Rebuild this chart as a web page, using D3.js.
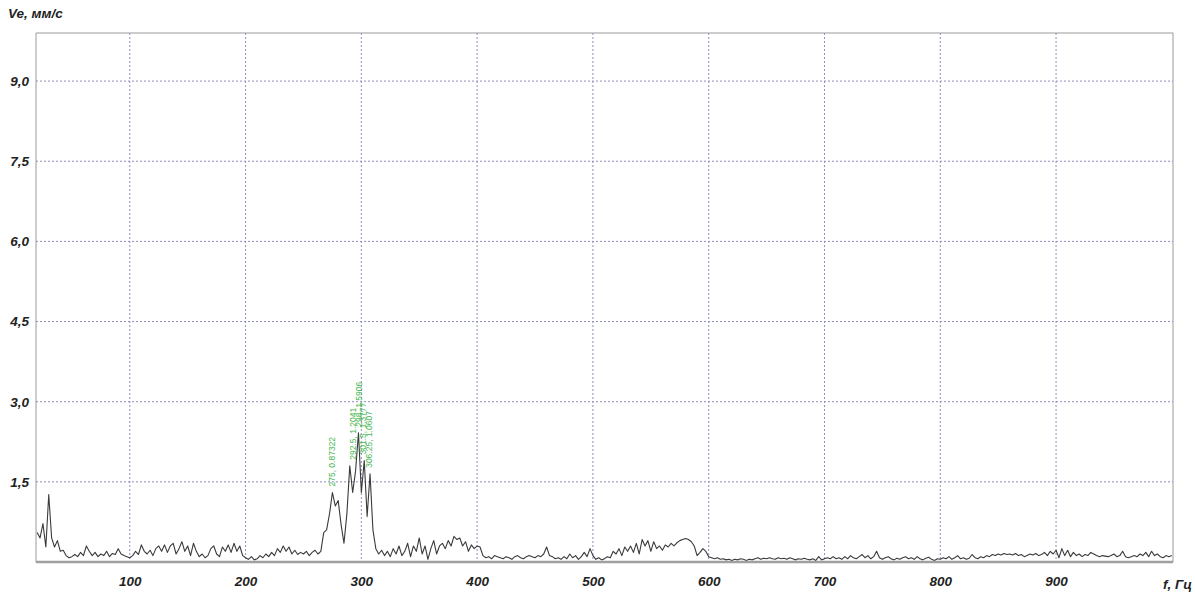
<!DOCTYPE html>
<html>
<head>
<meta charset="utf-8">
<script src="https://cdn.jsdelivr.net/npm/d3@7"></script>
<style>
  body { margin: 0; background: #fff; }
  svg { display: block; }
  .lbl { font-family: "Liberation Sans", Arial, sans-serif; font-weight: bold; font-style: italic; font-size: 13.5px; fill: #222; }
</style>
</head>
<body>
<svg class="chart"></svg>
<script>
// spectrum, 20 .. 1000 Hz with a 2.5 Hz step
var freqStart = 20, freqStep = 2.5;
var velocity = [
    // 20 - 97.5
    0.55, 0.45, 0.72, 0.28, 1.26, 0.45, 0.28, 0.4, 0.2, 0.22, 0.12, 0.08, 0.1, 0.14, 0.1, 0.18,
    0.12, 0.3, 0.2, 0.12, 0.18, 0.1, 0.15, 0.12, 0.2, 0.1, 0.16, 0.14, 0.25, 0.15, 0.12, 0.1,
    // 100 - 197.5
    0.08, 0.12, 0.2, 0.14, 0.32, 0.2, 0.15, 0.22, 0.12, 0.25, 0.3, 0.2, 0.32, 0.18, 0.3, 0.35, 0.15, 0.25, 0.38, 0.2,
    0.3, 0.12, 0.35, 0.2, 0.1, 0.15, 0.08, 0.12, 0.25, 0.3, 0.15, 0.1, 0.28, 0.2, 0.32, 0.18, 0.35, 0.2, 0.3, 0.12,
    // 200 - 247.5
    0.08, 0.05, 0.1, 0.04, 0.06, 0.12, 0.08, 0.15, 0.1, 0.18, 0.12, 0.25, 0.18, 0.3, 0.2, 0.28, 0.15, 0.22, 0.14, 0.18,
    // 250 - 347.5
    0.15, 0.2, 0.12, 0.18, 0.22, 0.15, 0.2, 0.55, 0.6, 0.9, 1.3, 1.05, 1.15, 0.7, 0.35, 0.9, 1.8, 1.3, 1.7, 2.42,
    1.3, 1.9, 0.85, 1.65, 0.6, 0.25, 0.15, 0.22, 0.12, 0.2, 0.1, 0.25, 0.15, 0.3, 0.12, 0.2, 0.35, 0.1, 0.3, 0.2,
    // 350 - 397.5
    0.45, 0.15, 0.3, 0.05, 0.25, 0.4, 0.15, 0.3, 0.35, 0.25, 0.4, 0.3, 0.48, 0.42, 0.45, 0.3, 0.38, 0.2, 0.32, 0.25,
    // 400 - 447.5
    0.3, 0.28, 0.12, 0.08, 0.1, 0.06, 0.12, 0.1, 0.08, 0.06, 0.1, 0.08, 0.05, 0.1, 0.12, 0.08, 0.06, 0.1, 0.12, 0.1,
    // 450 - 497.5
    0.08, 0.12, 0.1, 0.15, 0.28, 0.12, 0.1, 0.06, 0.08, 0.05, 0.1, 0.06, 0.15, 0.08, 0.12, 0.05, 0.1, 0.18, 0.1, 0.25,
    // 500 - 547.5
    0.12, 0.05, 0.08, 0.04, 0.06, 0.1, 0.08, 0.2, 0.15, 0.25, 0.12, 0.28, 0.2, 0.3, 0.18, 0.35, 0.15, 0.42, 0.3, 0.4,
    // 550 - 597.5
    0.2, 0.38, 0.25, 0.3, 0.22, 0.32, 0.28, 0.35, 0.3, 0.36, 0.4, 0.42, 0.44, 0.42, 0.38, 0.3, 0.12, 0.18, 0.25, 0.2,
    // 600 - 647.5
    0.1, 0.08, 0.06, 0.08, 0.05, 0.06, 0.04, 0.05, 0.03, 0.05, 0.04, 0.06, 0.05, 0.03, 0.05, 0.04, 0.06, 0.08, 0.05, 0.07,
    // 650 - 697.5
    0.06, 0.08, 0.06, 0.05, 0.08, 0.06, 0.07, 0.05, 0.08, 0.06, 0.04, 0.06, 0.05, 0.07, 0.05, 0.04, 0.06, 0.03, 0.1, 0.04,
    // 700 - 747.5
    0.06, 0.08, 0.06, 0.1, 0.06, 0.08, 0.05, 0.1, 0.06, 0.12, 0.08, 0.06, 0.1, 0.14, 0.08, 0.12, 0.06, 0.1, 0.2, 0.08,
    // 750 - 797.5
    0.05, 0.08, 0.1, 0.06, 0.04, 0.07, 0.05, 0.08, 0.1, 0.06, 0.08, 0.05, 0.1, 0.06, 0.04, 0.07, 0.09, 0.05, 0.03, 0.06,
    // 800 - 847.5
    0.05, 0.08, 0.06, 0.1, 0.05, 0.08, 0.12, 0.06, 0.08, 0.05, 0.07, 0.14, 0.08, 0.06, 0.1, 0.08, 0.12, 0.1, 0.14, 0.12,
    // 850 - 897.5
    0.15, 0.13, 0.16, 0.14, 0.15, 0.13, 0.16, 0.12, 0.14, 0.1, 0.12, 0.15, 0.13, 0.16, 0.12, 0.14, 0.18, 0.12, 0.2, 0.15,
    // 900 - 947.5
    0.22, 0.08, 0.25, 0.12, 0.22, 0.1, 0.18, 0.12, 0.15, 0.1, 0.14, 0.12, 0.18, 0.15, 0.12, 0.1, 0.12, 0.11, 0.1, 0.12,
    // 950 - 1000
    0.15, 0.1, 0.12, 0.2, 0.1, 0.08, 0.1, 0.12, 0.1, 0.15, 0.12, 0.18, 0.1, 0.2, 0.12, 0.15, 0.1, 0.08, 0.12, 0.1, 0.12
];

var xTicks = [100, 200, 300, 400, 500, 600, 700, 800, 900];
var yTicks = [1.5, 3.0, 4.5, 6.0, 7.5, 9.0];

// marked peaks
var peakFreqs = [275, 292.5, 298, 301.5, 306.25];
var peakTexts = ["275, 0.87322", "292.5, 1.2041", "298, 1.5906", "301.5, 1.3777", "306.25, 1.0607"];

var width = 1195, height = 597;
var plot = {left: 36, top: 33, right: 1173, bottom: 562};

var svg = d3.select(".chart")
    .attr("width", width)
    .attr("height", height);

var x = d3.scaleLinear()
    .domain([19, 1001])
    .range([plot.left, plot.right]);

var y = d3.scaleLinear()
    .domain([0, 9.9])
    .range([plot.bottom, plot.top]);

var points = velocity.map(function(v, i) {
    return {f: freqStart + i * freqStep, v: v};
});

// grid
var grid = svg.append("g");
grid.selectAll(".vg")
    .data(xTicks)
    .enter().append("line")
    .attr("x1", function(d) { return x(d); })
    .attr("x2", function(d) { return x(d); })
    .attr("y1", plot.top)
    .attr("y2", plot.bottom)
    .attr("stroke", "#8d8fc0")
    .attr("stroke-dasharray", "2,2");

grid.selectAll(".hg")
    .data(yTicks)
    .enter().append("line")
    .attr("x1", plot.left)
    .attr("x2", plot.right)
    .attr("y1", function(d) { return y(d); })
    .attr("y2", function(d) { return y(d); })
    .attr("stroke", "#8d8fc0")
    .attr("stroke-dasharray", "2,2");

// frame
svg.append("path")
    .attr("d", "M" + plot.left + "," + plot.bottom + "V" + plot.top + "H" + plot.right + "V" + plot.bottom)
    .attr("fill", "none")
    .attr("stroke", "#9a9a9a");

// spectrum line
var line = d3.line()
    .x(function(d) { return x(d.f); })
    .y(function(d) { return y(d.v); });

svg.append("path")
    .datum(points)
    .attr("d", line)
    .attr("fill", "none")
    .attr("stroke", "#3a3a3a")
    .attr("stroke-width", 1.1)
    .attr("stroke-linejoin", "round");

// bottom axis line
svg.append("line")
    .attr("x1", plot.left)
    .attr("x2", plot.right)
    .attr("y1", plot.bottom)
    .attr("y2", plot.bottom)
    .attr("stroke", "#a0a0a0")
    .attr("stroke-width", 2.5);

// x axis
var xAxis = d3.axisBottom(x)
    .tickValues(xTicks)
    .tickSize(0)
    .tickPadding(14)
    .tickFormat(d3.format("d"));

var gx = svg.append("g")
    .attr("transform", "translate(0," + plot.bottom + ")")
    .call(xAxis);
gx.select(".domain").remove();
gx.selectAll(".tick text").attr("class", "lbl").attr("font-family", null).attr("font-size", null);

// y axis
var yAxis = d3.axisLeft(y)
    .tickValues(yTicks)
    .tickSize(0)
    .tickPadding(7)
    .tickFormat(function(d) { return d3.format(".1f")(d).replace(".", ","); });

var gy = svg.append("g")
    .attr("transform", "translate(" + plot.left + ",0)")
    .call(yAxis);
gy.select(".domain").remove();
gy.selectAll(".tick text").attr("class", "lbl").attr("font-family", null).attr("font-size", null);

// axis titles
svg.append("text").attr("class", "lbl")
    .attr("x", 8).attr("y", 18)
    .text("Ve, мм/с");

svg.append("text").attr("class", "lbl")
    .attr("x", 1192).attr("y", 589)
    .attr("text-anchor", "end")
    .text("f, Гц");

// peak labels, placed above the local maximum of the line
function localMax(f) {
    var m = 0;
    points.forEach(function(p) {
        if (Math.abs(p.f - f) <= 2.5 && p.v > m) m = p.v;
    });
    return m;
}

svg.append("g")
    .selectAll("text")
    .data(peakFreqs)
    .enter().append("text")
    .attr("transform", function(d) {
        return "translate(" + (x(d) + 3) + "," + (y(localMax(d)) - 6) + ") rotate(-90)";
    })
    .attr("font-family", "'Liberation Sans Narrow', 'Liberation Sans', sans-serif")
    .attr("font-size", "8.5px")
    .attr("fill", "#45b54e")
    .text(function(d, i) { return peakTexts[i]; });
</script>
</body>
</html>
